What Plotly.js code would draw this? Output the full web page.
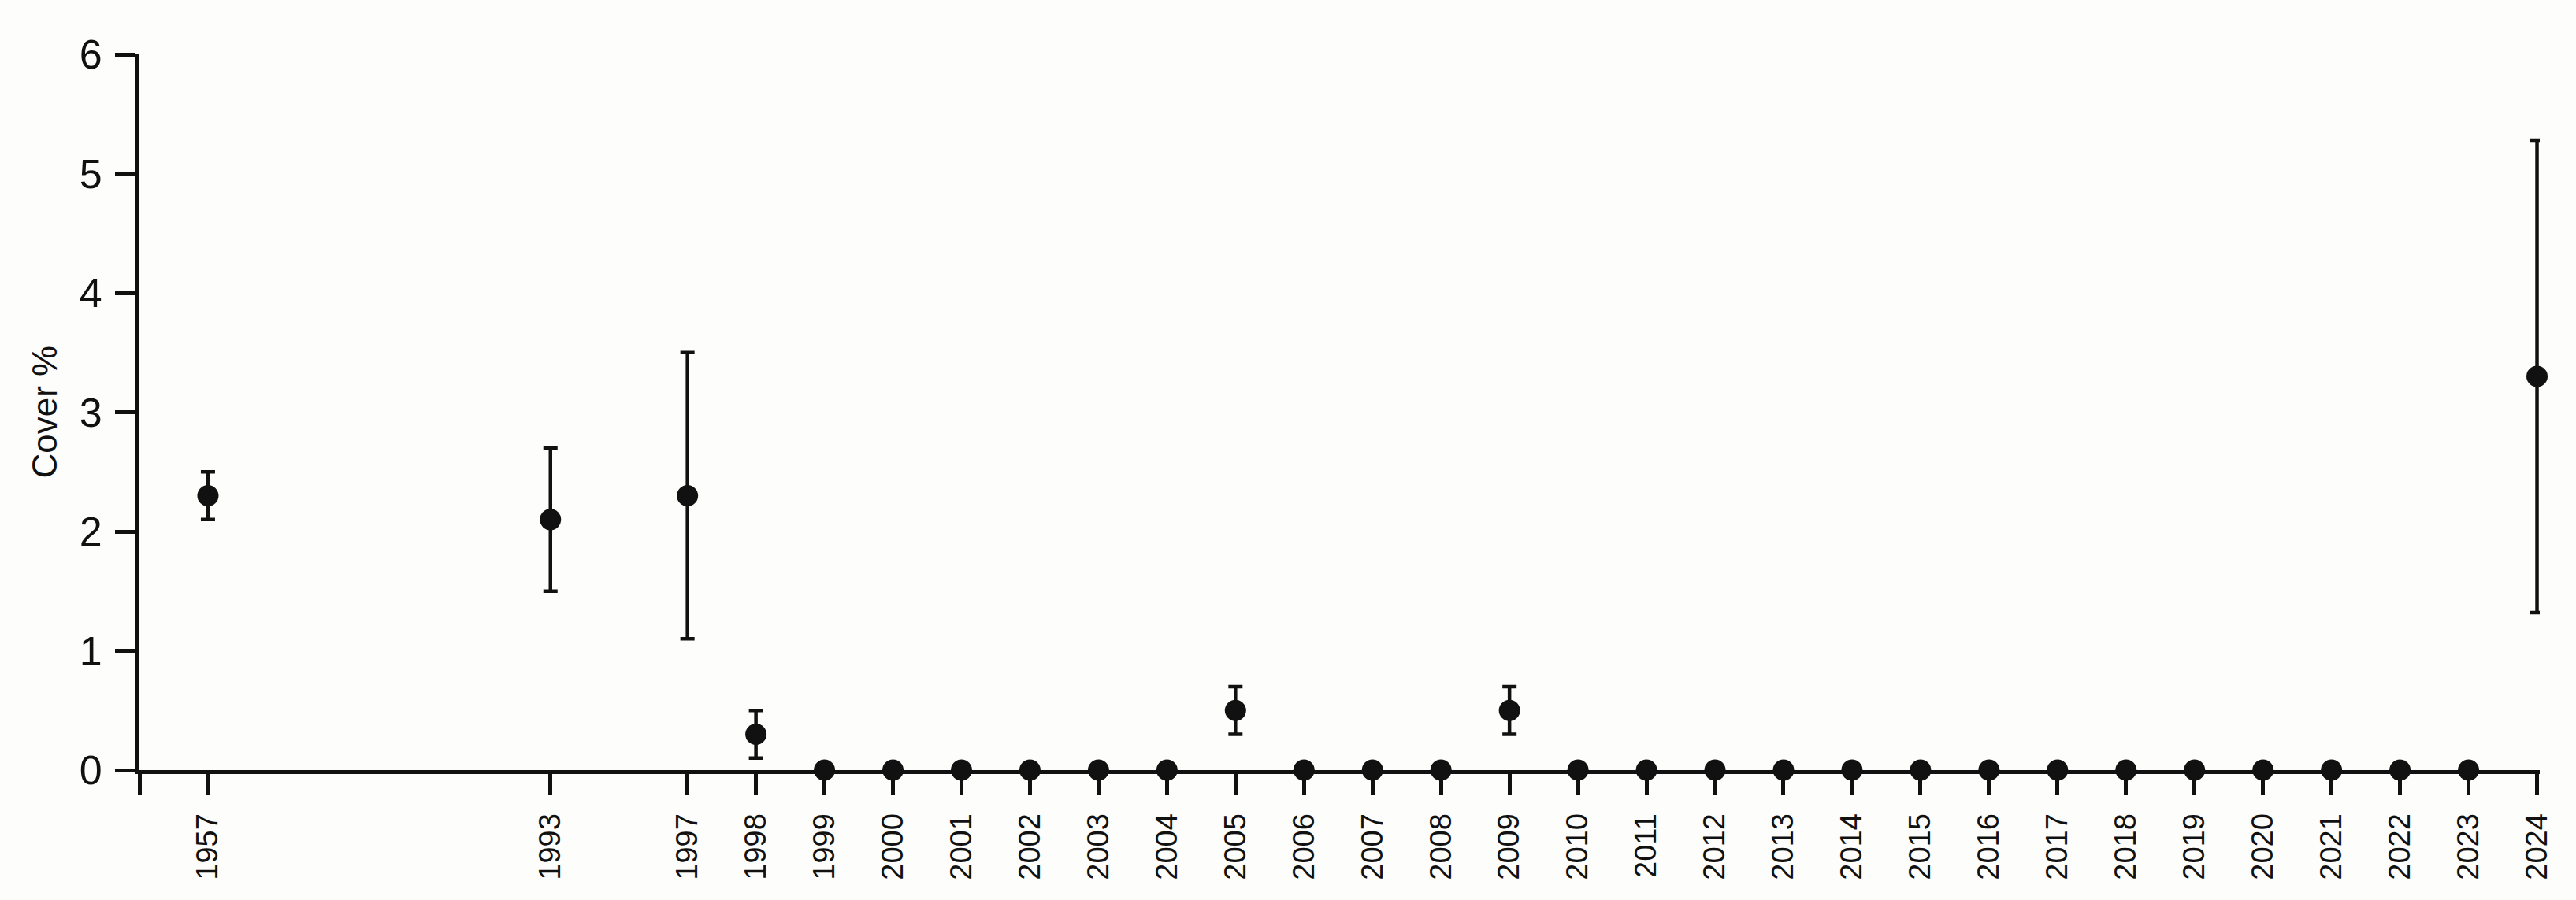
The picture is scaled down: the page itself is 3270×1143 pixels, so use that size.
<!DOCTYPE html>
<html>
<head>
<meta charset="utf-8">
<script src="https://cdn.plot.ly/plotly-3.0.1.min.js"></script>
<style>
  html, body { margin: 0; padding: 0; background: #fdfdfc; }
  #plot { width: 3270px; height: 1143px; }
</style>
</head>
<body>
<div id="plot"></div>
<script>
var years = ['1957', '1993', '1997', '1998', '1999', '2000', '2001', '2002', '2003', '2004',
  '2005', '2006', '2007', '2008', '2009', '2010', '2011', '2012', '2013', '2014',
  '2015', '2016', '2017', '2018', '2019', '2020', '2021', '2022', '2023', '2024'];

var cover = [2.3, 2.1, 2.3, 0.3, 0, 0, 0, 0, 0, 0,
  0.5, 0, 0, 0, 0.5, 0, 0, 0, 0, 0,
  0, 0, 0, 0, 0, 0, 0, 0, 0, 3.3];

var coverErr = [0.2, 0.6, 1.2, 0.2, 0, 0, 0, 0, 0, 0,
  0.2, 0, 0, 0, 0.2, 0, 0, 0, 0, 0,
  0, 0, 0, 0, 0, 0, 0, 0, 0, 1.98];

// empty slots left on the axis before some years
var gapBefore = {'1993': 4, '1997': 1};

var slots = [];
var pos = 0;
years.forEach(function (y, i) {
  if (i > 0) pos += 1 + (gapBefore[y] || 0);
  slots.push(pos);
});

var trace1 = {
  x: slots,
  y: cover,
  type: 'scatter',
  mode: 'markers',
  marker: { color: '#111', size: 27 },
  error_y: { type: 'data', array: coverErr, visible: true, color: '#111', thickness: 4.5, width: 9 },
  cliponaxis: false,
  hoverinfo: 'skip'
};

var lastSlot = slots[slots.length - 1];
var fontFam = 'Liberation Sans, Arial, sans-serif';

var layout = {
  width: 3270,
  height: 1143,
  margin: { l: 177, r: 46, t: 69, b: 165 },
  paper_bgcolor: '#fdfdfc',
  plot_bgcolor: '#fdfdfc',
  showlegend: false,
  xaxis: {
    range: [-1, lastSlot + 0.04],
    tickmode: 'array',
    tickvals: [-1].concat(slots),
    ticktext: [''].concat(years),
    tickangle: -90,
    tickfont: { family: fontFam, size: 38, color: '#111' },
    ticks: 'outside',
    ticklen: 27,
    tickwidth: 5,
    tickcolor: '#111',
    ticklabelstandoff: 8,
    showline: true,
    linecolor: '#111',
    linewidth: 5,
    showgrid: false,
    zeroline: false
  },
  yaxis: {
    range: [0, 6],
    tickvals: [0, 1, 2, 3, 4, 5, 6],
    tickfont: { family: fontFam, size: 52, color: '#111' },
    ticks: 'outside',
    ticklen: 26,
    tickwidth: 5,
    tickcolor: '#111',
    ticklabelstandoff: 6,
    showline: true,
    linecolor: '#111',
    linewidth: 5,
    showgrid: false,
    zeroline: false
  },
  annotations: [{
    text: 'Cover %',
    xref: 'paper', yref: 'paper',
    x: -0.0397, y: 0.5,
    xanchor: 'center', yanchor: 'middle',
    textangle: -90,
    showarrow: false,
    font: { family: fontFam, size: 44, color: '#111' }
  }]
};

Plotly.newPlot('plot', [trace1], layout, { displayModeBar: false, staticPlot: true });
</script>
</body>
</html>
